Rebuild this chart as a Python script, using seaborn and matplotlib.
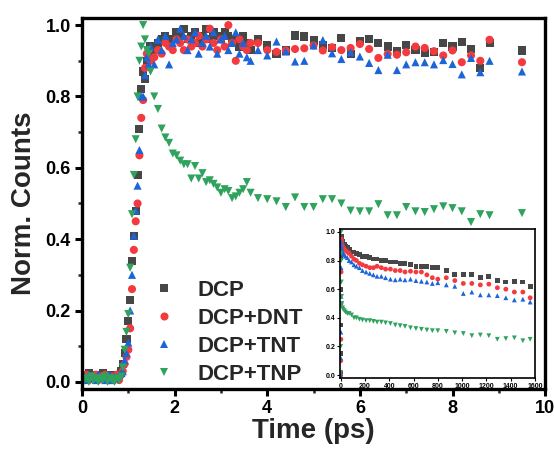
import pandas as pd
import matplotlib.pyplot as plt
import seaborn as sns
from matplotlib.ticker import MultipleLocator

# delay grid of the short window (ps)
time_ps = [0.05, 0.10, 0.15, 0.20, 0.25, 0.30, 0.35, 0.40, 0.45, 0.50, 0.55, 0.60, 0.65, 0.70, 0.75, 0.80, 0.85,
           0.88, 0.92, 0.96, 1.00, 1.04, 1.08, 1.12, 1.16, 1.20, 1.24, 1.28, 1.32, 1.36, 1.40, 1.44, 1.48,
           1.56, 1.64, 1.72, 1.80, 1.88, 1.96, 2.04, 2.12, 2.20, 2.28, 2.36, 2.44, 2.52, 2.60, 2.68, 2.76,
           2.84, 2.92, 3.00, 3.08, 3.16, 3.24, 3.32, 3.40, 3.48, 3.56, 3.64,
           3.8, 4.0, 4.2, 4.4, 4.6, 4.8, 5.0, 5.2, 5.4, 5.6, 5.8, 6.0, 6.2, 6.4, 6.6, 6.8, 7.0,
           7.2, 7.4, 7.6, 7.8, 8.0, 8.2, 8.4, 8.6, 8.8, 9.5]

dcp = [0.02, 0.015, 0.025, 0.01, 0.02, 0.015, 0.02, 0.01, 0.025, 0.015, 0.02, 0.01, 0.015, 0.02, 0.01, 0.015, 0.03,
       0.05, 0.08, 0.12, 0.17, 0.23, 0.34, 0.41, 0.48, 0.58, 0.71, 0.82, 0.87, 0.85, 0.90, 0.92, 0.94,
       0.93, 0.95, 0.96, 0.97, 0.95, 0.96, 0.98, 0.97, 0.99, 0.96, 0.97, 0.98, 0.95, 0.97, 0.99, 0.96,
       0.98, 0.97, 0.96, 0.98, 0.97, 0.95, 0.96, 0.94, 0.97, 0.95, 0.93,
       0.96, 0.943, 0.919, 0.929, 0.971, 0.968, 0.957, 0.945, 0.935, 0.965, 0.92, 0.955, 0.961, 0.95, 0.94, 0.926, 0.944,
       0.93, 0.921, 0.924, 0.95, 0.94, 0.953, 0.933, 0.88, 0.95, 0.929]
dcp_dnt = [0.01, 0.02, 0.005, 0.015, 0.01, 0.02, 0.005, 0.015, 0.01, 0.02, 0.01, 0.005, 0.015, 0.01, 0.02, 0.005, 0.02,
           0.03, 0.05, 0.07, 0.09, 0.15, 0.26, 0.37, 0.45, 0.50, 0.635, 0.74, 0.79, 0.88, 0.92, 0.93, 0.90,
           0.91, 0.93, 0.92, 0.95, 0.94, 0.93, 0.96, 0.95, 0.93, 0.96, 0.94, 0.95, 0.97, 0.94, 0.96, 0.99,
           0.95, 0.93, 0.96, 0.94, 1.00, 0.95, 0.90, 0.96, 0.94, 0.93, 0.95,
           0.95, 0.93, 0.925, 0.929, 0.933, 0.935, 0.943, 0.929, 0.938, 0.93, 0.936, 0.947, 0.933, 0.908, 0.919, 0.917, 0.924,
           0.94, 0.936, 0.927, 0.915, 0.929, 0.896, 0.915, 0.90, 0.959, 0.896]
dcp_tnt = [0.015, 0.005, 0.02, 0.01, 0.015, 0.005, 0.02, 0.01, 0.015, 0.005, 0.01, 0.02, 0.005, 0.015, 0.01, 0.02, 0.025,
           0.03, 0.06, 0.08, 0.11, 0.20, 0.30, 0.41, 0.48, 0.55, 0.65, 0.80, 0.80, 0.86, 0.91, 0.89, 0.94,
           0.89, 0.96, 0.93, 0.97, 0.89, 0.95, 0.96, 0.99, 0.97, 0.93, 0.96, 0.98, 0.92, 0.95, 0.97, 0.94,
           0.98, 0.92, 0.96, 0.97, 0.93, 0.95, 0.98, 0.92, 0.95, 0.91, 0.90,
           0.93, 0.915, 0.954, 0.926, 0.898, 0.90, 0.943, 0.958, 0.921, 0.905, 0.924, 0.912, 0.894, 0.874, 0.917, 0.874, 0.89,
           0.896, 0.896, 0.89, 0.902, 0.891, 0.862, 0.908, 0.868, 0.90, 0.87]
dcp_tnp = [0.005, 0.01, 0.0, 0.015, 0.005, 0.01, 0.0, 0.01, 0.005, 0.015, 0.0, 0.01, 0.005, 0.0, 0.01, 0.005, 0.015,
           0.04, 0.09, 0.14, 0.19, 0.32, 0.47, 0.58, 0.68, 0.80, 0.90, 0.94, 1.00, 0.96, 0.93, 0.92, 0.87,
           0.80, 0.765, 0.71, 0.685, 0.67, 0.64, 0.635, 0.62, 0.61, 0.61, 0.57, 0.605, 0.57, 0.585, 0.56, 0.565,
           0.555, 0.545, 0.53, 0.54, 0.535, 0.515, 0.52, 0.53, 0.54, 0.56, 0.53,
           0.515, 0.512, 0.506, 0.49, 0.517, 0.49, 0.49, 0.512, 0.512, 0.50, 0.48, 0.478, 0.478, 0.498, 0.467, 0.467, 0.49,
           0.478, 0.476, 0.484, 0.492, 0.487, 0.478, 0.448, 0.47, 0.467, 0.473]

# long window for the inset (ps)
time_long = [0, 1, 2, 3, 4, 5, 6, 8, 10, 15, 20, 30, 40, 55, 70, 90, 110, 130, 155, 180, 210, 240, 270, 300,
             335, 370, 410, 450, 490, 530, 575, 620, 665, 710, 755, 800, 870, 940, 1010, 1080, 1150, 1220,
             1290, 1360, 1430, 1500, 1560]
dcp_long = [0.01, 0.15, 0.35, 0.6, 0.82, 0.95, 0.97, 0.96, 0.94, 0.93, 0.92, 0.91, 0.90, 0.89, 0.88, 0.86,
            0.86, 0.85, 0.84, 0.83, 0.83, 0.82, 0.81, 0.81, 0.80, 0.80, 0.79, 0.79, 0.78, 0.78, 0.77, 0.76,
            0.76, 0.76, 0.75, 0.75, 0.73, 0.70, 0.70, 0.70, 0.68, 0.69, 0.66, 0.65, 0.655, 0.65, 0.62]
dnt_long = [0.0, 0.1, 0.25, 0.5, 0.72, 0.9, 0.95, 0.93, 0.92, 0.90, 0.89, 0.88, 0.87, 0.86, 0.85, 0.83,
            0.81, 0.80, 0.78, 0.77, 0.76, 0.75, 0.75, 0.76, 0.75, 0.74, 0.74, 0.73, 0.73, 0.72, 0.725, 0.72,
            0.72, 0.70, 0.68, 0.67, 0.68, 0.66, 0.64, 0.64, 0.63, 0.635, 0.61, 0.60, 0.58, 0.58, 0.54]
tnt_long = [0.0, 0.12, 0.3, 0.55, 0.75, 0.88, 0.93, 0.90, 0.88, 0.86, 0.85, 0.84, 0.83, 0.82, 0.80, 0.79,
            0.77, 0.76, 0.75, 0.73, 0.72, 0.71, 0.70, 0.69, 0.69, 0.68, 0.67, 0.665, 0.67, 0.665, 0.67, 0.66,
            0.655, 0.65, 0.64, 0.645, 0.63, 0.62, 0.57, 0.58, 0.56, 0.56, 0.555, 0.54, 0.525, 0.53, 0.51]
tnp_long = [0.02, 0.2, 0.5, 0.85, 1.0, 0.8, 0.65, 0.55, 0.5, 0.47, 0.46, 0.45, 0.44, 0.43, 0.43, 0.42,
            0.40, 0.40, 0.39, 0.385, 0.38, 0.38, 0.375, 0.37, 0.37, 0.365, 0.36, 0.35, 0.345, 0.34, 0.33, 0.325,
            0.32, 0.315, 0.31, 0.31, 0.305, 0.295, 0.29, 0.275, 0.28, 0.275, 0.25, 0.255, 0.26, 0.24, 0.25]

samples = ['DCP', 'DCP+DNT', 'DCP+TNT', 'DCP+TNP']
colors = {'DCP': '#474747', 'DCP+DNT': '#f23a3f', 'DCP+TNT': '#1c64d8', 'DCP+TNP': '#2fa35e'}
markers = {'DCP': 's', 'DCP+DNT': 'o', 'DCP+TNT': '^', 'DCP+TNP': 'v'}


def long_frame(t, series):
    parts = [pd.DataFrame({'time': t, 'counts': y, 'sample': name}) for name, y in zip(samples, series)]
    return pd.concat(parts, ignore_index=True)


df = long_frame(time_ps, [dcp, dcp_dnt, dcp_tnt, dcp_tnp])
df_long = long_frame(time_long, [dcp_long, dnt_long, tnt_long, tnp_long])

sns.set_theme(style='ticks')
plt.rcParams['font.family'] = ['Liberation Sans', 'DejaVu Sans']
plt.rcParams['font.weight'] = 'bold'
plt.rcParams['axes.labelweight'] = 'bold'

fig = plt.figure(figsize=(5.54, 4.51), dpi=100)
ax = fig.add_axes([0.148, 0.1375, 0.836, 0.8226])

sns.scatterplot(data=df, x='time', y='counts', hue='sample', style='sample', hue_order=samples,
                style_order=samples, palette=colors, markers=markers, s=34, linewidth=0, ax=ax)
ax.set_xlim(0, 10)
ax.set_ylim(-0.02, 1.02)
ax.xaxis.set_major_locator(MultipleLocator(2))
ax.xaxis.set_minor_locator(MultipleLocator(1))
ax.yaxis.set_major_locator(MultipleLocator(0.2))
ax.yaxis.set_minor_locator(MultipleLocator(0.1))
ax.set_xlabel('Time (ps)', fontsize=20, labelpad=1)
ax.set_ylabel('Norm. Counts', fontsize=20, labelpad=6)
for sp in ax.spines.values():
    sp.set_linewidth(2.4)
    sp.set_color('black')
ax.tick_params(which='major', direction='out', length=5, width=2.2, labelsize=13, pad=3, colors='black')
ax.tick_params(which='minor', direction='out', length=3, width=1.8)
ax.set_yticklabels([f'{v:.1f}' for v in ax.get_yticks()])

handles, labels = ax.get_legend_handles_labels()
leg = ax.legend(handles, labels, loc='lower left', bbox_to_anchor=(153 / 554, 66 / 451),
                bbox_transform=fig.transFigure, frameon=False, fontsize=16, labelspacing=0.32,
                handlelength=1.0, handletextpad=1.0, borderpad=0, borderaxespad=0, markerscale=1.0)

# inset with the long time window
axin = fig.add_axes([340 / 554, 1 - 378 / 451, 195 / 554, 149 / 451])
sns.scatterplot(data=df_long, x='time', y='counts', hue='sample', style='sample', hue_order=samples,
                style_order=samples, palette=colors, markers=markers, s=12, linewidth=0, legend=False, ax=axin)
axin.set_xlim(-5, 1600)
axin.set_ylim(-0.02, 1.02)
axin.xaxis.set_major_locator(MultipleLocator(200))
axin.yaxis.set_major_locator(MultipleLocator(0.2))
axin.set_xlabel('')
axin.set_ylabel('')
for sp in axin.spines.values():
    sp.set_linewidth(1.2)
    sp.set_color('black')
axin.tick_params(direction='out', length=2, width=0.8, labelsize=5, pad=1.5, colors='black')
axin.set_yticklabels([f'{v:.1f}' for v in axin.get_yticks()])

fig.savefig('out.png', dpi=100)
